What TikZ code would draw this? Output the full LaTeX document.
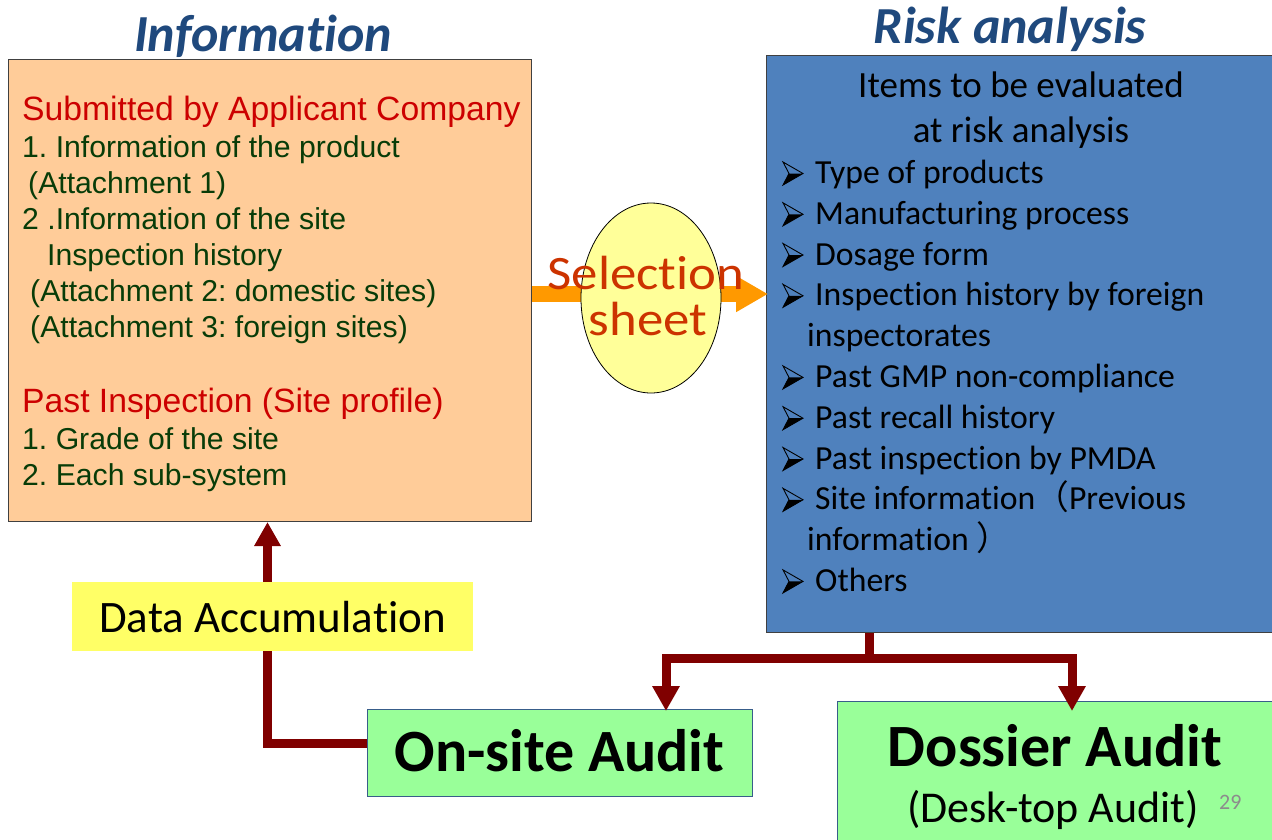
\documentclass[tikz,border=0pt]{standalone}
\usepackage{fontspec}
\setmainfont{Liberation Sans}
\newfontfamily\calibri[Ligatures={NoCommon,NoContextual},Contextuals=NoAlternate]{Carlito}
\newfontfamily\cjkfont{Noto Sans CJK JP}
\usetikzlibrary{arrows.meta,shapes.geometric}

\definecolor{titleblue}{RGB}{31,73,125}
\definecolor{peach}{RGB}{255,204,153}
\definecolor{txtred}{RGB}{204,0,0}
\definecolor{txtgreen}{RGB}{8,60,8}
\definecolor{riskblue}{RGB}{79,129,189}
\definecolor{edgegray}{RGB}{64,64,64}
\definecolor{paleyellow}{RGB}{255,255,153}
\definecolor{selorange}{RGB}{255,153,0}
\definecolor{seltext}{RGB}{204,51,0}
\definecolor{darkred}{RGB}{128,0,0}
\definecolor{auditgreen}{RGB}{153,255,153}
\definecolor{auditedge}{RGB}{56,93,138}
\definecolor{accyellow}{RGB}{255,255,102}
\definecolor{pagegray}{RGB}{140,140,140}

\newcommand\setfs[1]{\fontsize{#1}{#1}\selectfont}

\begin{document}
\frenchspacing
\begin{tikzpicture}[x=1pt,y=-1pt,
  title/.style={font=\calibri\bfseries\itshape\setfs{52}, text=titleblue, inner sep=0pt, anchor=base},
  redline/.style={font=\setfs{33.7}, text=txtred, inner sep=0pt, anchor=base west},
  greenline/.style={font=\setfs{30.2}, text=txtgreen, inner sep=0pt, anchor=base west},
  riskline/.style={font=\calibri\setfs{33.7}, text=black, inner sep=0pt, anchor=base west},
  riskhead/.style={font=\calibri\setfs{37}, text=black, inner sep=0pt, anchor=base},
  panel/.style={inner sep=0pt, anchor=north west, line width=1.2pt},
  conn/.style={draw=darkred, line width=9pt},
  conntip/.style={-{Triangle[width=26pt,length=25pt]}},
  % three-d arrowhead bullet, origin at its lower left corner
  arrowbullet/.pic={
    \draw[black, line width=0.9pt, line join=miter] (0,-23) -- (20,-11.5) -- (0,0) -- (6,-11.5) -- cycle;
    \fill[black] (6,-11.5) -- (20,-11.5) -- (0,0) -- cycle;
  },
]
\useasboundingbox (0,0) rectangle (1272,839);
\fill[white] (0,0) rectangle (1272,839);

% ---- section titles
\node[title] (tinfo) at (263,51) {Information};
\node[title] (trisk) at (1010,43) {Risk analysis};

% ---- information panel
\node[panel, draw=edgegray, fill=peach, minimum width=523pt, minimum height=462pt] (info) at (8,59) {};
\node[redline]   (i1)  at (22,120) {Submitted by Applicant Company};
\node[greenline] (i2)  at (22,157) {1. Information of the product};
\node[greenline] (i3)  at (28,193) {(Attachment 1)};
\node[greenline] (i4)  at (22,229) {2 .Information of the site};
\node[greenline] (i5)  at (47,265) {Inspection history};
\node[greenline] (i6)  at (30,301) {(Attachment 2: domestic sites)};
\node[greenline] (i7)  at (30,337) {(Attachment 3: foreign sites)};
\node[redline]   (i8)  at (22,412) {Past Inspection (Site profile)};
\node[greenline] (i9)  at (22,449) {1. Grade of the site};
\node[greenline] (i10) at (22,485) {2. Each sub-system};

% ---- risk analysis panel
\node[panel, draw=edgegray, fill=riskblue, minimum width=530pt, minimum height=577pt] (risk) at (766,55) {};
\node[riskhead] (h1) at (1021,97) {Items to be evaluated};
\node[riskhead] (h2) at (1021,142) {at risk analysis};
\foreach \yy/\txt [count=\i] in {
    183.5/{Type of products},
    224.3/{Manufacturing process},
    265/{Dosage form},
    305.8/{Inspection history by foreign},
    387.4/{Past GMP non-compliance},
    428.2/{Past recall history},
    469/{Past inspection by PMDA},
    509.8/{Site information{\cjkfont （}Previous},
    591.4/{Others}} {
  \pic at (783,\yy+1.5) {arrowbullet};
  \node[riskline] (r\i) at (815,\yy) {\txt};
}
\node[riskline] (c1) at (807,346.6) {inspectorates};
\node[riskline] (c2) at (807,550.6) {information {\cjkfont ）}};

% ---- selection sheet
\coordinate (seltip) at (768,294);
\draw[selorange, line width=16pt, -{Triangle[width=34pt,length=32pt]}] (info.east |- seltip) -- (seltip);
\node[ellipse, draw=black, line width=0.8pt, fill=paleyellow, minimum width=140pt, minimum height=190pt, inner sep=0pt] (sel) at (651,298) {};
\node[font=\calibri\setfs{48}, text=seltext, inner sep=0pt, anchor=base] (sel1) at (646,289) {\scalebox{1.1}[1]{Selection}};
\node[font=\calibri\setfs{48}, text=seltext, inner sep=0pt, anchor=base] (sel2) at (648,335) {\scalebox{1.1}[1]{sheet}};

% ---- audit boxes
\node[panel, draw=auditedge, fill=auditgreen, minimum width=385pt, minimum height=87pt] (onsite) at (367,709) {};
\node[font=\calibri\bfseries\setfs{60}, inner sep=0pt, anchor=base] (onsitetext) at (559.5,771) {On-site Audit};
\node[panel, draw=auditedge, fill=auditgreen, minimum width=450pt, minimum height=150pt] (dossier) at (837,701) {};
\node[font=\calibri\bfseries\setfs{60}, inner sep=0pt, anchor=base] (dossiertext) at (1055,766) {Dossier Audit};
\node[font=\calibri\setfs{44}, inner sep=0pt, anchor=base] (desktext) at (1053,822) {(Desk-top Audit)};
\node[font=\calibri\setfs{22}, text=pagegray, inner sep=0pt, anchor=base west] (pageno) at (1219,809) {29};

% ---- connectors from the risk analysis to the audits
\coordinate (split) at (869,658);
\coordinate (onsitein) at (666,711);
\coordinate (dossierin) at (1072,711);
\draw[conn] (split |- risk.south) -- (split);
\draw[conn, conntip] (split) -| (onsitein);
\draw[conn, conntip] (split) -| (dossierin);

% ---- feedback loop from the on-site audit to the information
\coordinate (loopstart) at (367,743.5);
\coordinate (infoin) at (267.5,522);
\draw[conn, -{Triangle[width=25pt,length=24pt]}] (loopstart) -| (infoin);
\node[fill=accyellow, inner sep=0pt, anchor=north west, minimum width=401pt, minimum height=69pt] (acc) at (72,582) {};
\node[font=\calibri\setfs{45}, inner sep=0pt, anchor=base] (acctext) at (272.5,632) {Data Accumulation};
\end{tikzpicture}
\end{document}
